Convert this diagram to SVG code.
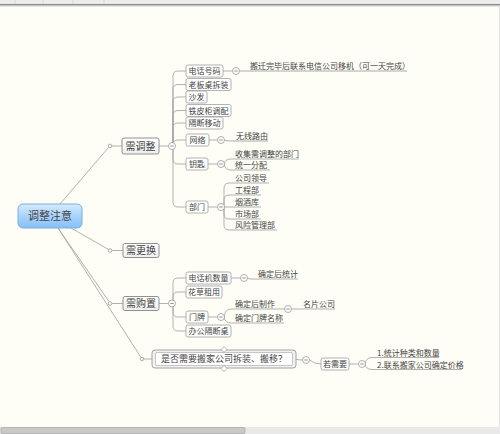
<svg xmlns="http://www.w3.org/2000/svg" width="500" height="434" viewBox="0 0 500 434">
<defs>
<linearGradient id="gc" x1="0" y1="0" x2="0" y2="1">
<stop offset="0" stop-color="#d6ebff"/>
<stop offset="0.5" stop-color="#a9d3fc"/>
<stop offset="1" stop-color="#86c0f6"/>
</linearGradient>
<linearGradient id="gm" x1="0" y1="0" x2="0" y2="1">
<stop offset="0" stop-color="#ffffff"/>
<stop offset="1" stop-color="#eeeeee"/>
</linearGradient>
<style>
text{font-family:"Noto Sans CJK SC","Noto Sans",sans-serif;fill:#444}
.c{font-size:8px;text-anchor:middle}
.u{font-size:8px}
.m{font-size:10px;text-anchor:middle}
.box{fill:#ffffff;stroke:#a0a0a0;stroke-width:0.8}
.mbox{fill:url(#gm);stroke:#909090;stroke-width:1}
.ln{fill:none;stroke:#a8a8a8;stroke-width:0.9}
.ul{fill:none;stroke:#a0a0a0;stroke-width:0.9}
.col{fill:#fff;stroke:#999;stroke-width:0.8}
.dot{fill:#fff;stroke:#999;stroke-width:0.8}
.minus{stroke:#777;stroke-width:0.8}
</style>
</defs>
<rect x="0" y="0" width="500" height="434" fill="#fefef6"/>
<!-- top bar -->
<rect x="0" y="0" width="500" height="4" fill="#ececec"/>
<g stroke="#d2d2d2" stroke-width="0.8"><line x1="15" y1="0" x2="15" y2="3.5"/><line x1="43" y1="0" x2="43" y2="3.5"/><line x1="73" y1="0" x2="73" y2="3.5"/><line x1="104" y1="0" x2="104" y2="3.5"/></g>
<line x1="0" y1="4.8" x2="500" y2="4.8" stroke="#8a8a8a" stroke-width="1.5"/>
<line x1="0" y1="6.3" x2="500" y2="6.3" stroke="#dcdcdc" stroke-width="1"/>
<!-- right edge and bottom scrollbar -->
<line x1="499.5" y1="6" x2="499.5" y2="427" stroke="#e2e2e2"/>
<rect x="0" y="427" width="500" height="7" fill="#e9e9e9"/>
<rect x="1" y="427.5" width="244" height="6" rx="1" fill="#c9c9c9" stroke="#acacac" stroke-width="0.8"/>

<g id="connectors">
<line class="ln" x1="60" y1="204" x2="108.5" y2="147.5"/>
<line class="ln" x1="71" y1="228" x2="108.5" y2="249.5"/>
<line class="ln" x1="58" y1="228" x2="109" y2="301.5"/>
<line class="ln" x1="58" y1="228" x2="141" y2="357.5"/>
<line class="ln" x1="111.8" y1="146" x2="122" y2="146"/>
<line class="ln" x1="111.8" y1="250.5" x2="123" y2="250.5"/>
<line class="ln" x1="111.8" y1="303.5" x2="123" y2="303.5"/>
<line class="ln" x1="143.8" y1="359" x2="152" y2="359"/>
<!-- 需调整 -->
<line class="ln" x1="159" y1="146" x2="168.5" y2="146"/>
<path class="ln" d="M173 146 V76 Q173 71 178 71 H186"/>
<path class="ln" d="M173 146 V89.5 Q173 84.5 178 84.5 H186"/>
<path class="ln" d="M173 146 V102 Q173 97 178 97 H186"/>
<path class="ln" d="M173 146 V115.5 Q173 110.5 178 110.5 H186"/>
<path class="ln" d="M173 146 V128 Q173 123 178 123 H186"/>
<path class="ln" d="M173 146 V145 Q173 140 178 140 H186"/>
<path class="ln" d="M173 146 V159 Q173 164 178 164 H186"/>
<path class="ln" d="M173 146 V202 Q173 207 178 207 H186"/>
<line class="ln" x1="223" y1="71" x2="232.5" y2="71"/>
<line class="ln" x1="239.5" y1="71" x2="247" y2="71"/>
<line class="ul" x1="247" y1="71" x2="407" y2="71"/>
<line class="ln" x1="209" y1="140" x2="217.5" y2="140"/>
<line class="ln" x1="224.5" y1="140.5" x2="232" y2="141"/>
<line class="ul" x1="232" y1="141" x2="268" y2="141"/>
<line class="ln" x1="208" y1="164" x2="217.5" y2="164"/>
<path class="ln" d="M224 164 Q225 159 231 159 H299"/>
<path class="ln" d="M224 164 Q225 170 231 170 H270"/>
<line class="ln" x1="208" y1="207" x2="217.5" y2="207"/>
<path class="ln" d="M224 207 V188 Q224 183 229 183 H269"/>
<path class="ln" d="M224 207 V200 Q224 195 229 195 H261"/>
<path class="ln" d="M224.5 207 H261"/>
<path class="ln" d="M224 207 V214 Q224 219 229 219 H261"/>
<path class="ln" d="M224 207 V225 Q224 230 229 230 H277"/>
<!-- 需购置 -->
<line class="ln" x1="159" y1="303.5" x2="168.5" y2="303.5"/>
<path class="ln" d="M173 303.5 V283 Q173 278 178 278 H186"/>
<path class="ln" d="M173 303.5 V297 Q173 292 178 292 H186"/>
<path class="ln" d="M173 303.5 V312 Q173 317 178 317 H186"/>
<path class="ln" d="M173 303.5 V326 Q173 331 178 331 H186"/>
<line class="ln" x1="231" y1="278" x2="240.5" y2="278"/>
<path class="ln" d="M247.5 278 Q249 279 251 279 H298"/>
<line class="ln" x1="208" y1="317" x2="217.5" y2="317"/>
<path class="ln" d="M224 317 Q225 309 231 309 H284.5"/>
<path class="ln" d="M224 317 Q225 323 231 323 H284"/>
<line class="ln" x1="291.5" y1="309" x2="335" y2="309"/>
<!-- 是否 -->
<line class="ln" x1="296" y1="359.5" x2="302.5" y2="360"/>
<path class="ln" d="M309.5 360 Q314 364 321 364"/>
<line class="ln" x1="349" y1="364" x2="358.5" y2="364"/>
<path class="ln" d="M365 364 Q366 357.5 372 357.5 H439"/>
<path class="ln" d="M365 364 Q366 369.5 372 369.5 H462"/>
</g>

<g id="n-root">
<rect x="18" y="204" width="64" height="24" rx="5" fill="url(#gc)" stroke="#78aee2" stroke-width="1"/>
<text x="50" y="220" font-size="11" text-anchor="middle">调整注意</text>
</g>

<g id="n-adjust">
<circle class="dot" cx="110" cy="146" r="1.8"/>
<rect class="mbox" x="122" y="138" width="37" height="16" rx="2"/>
<text class="m" x="140.5" y="149.5">需调整</text>
<circle class="col" cx="172" cy="146" r="3.5"/><line class="minus" x1="170.3" y1="146" x2="173.7" y2="146"/>
</g>
<g id="n-phone"><rect class="box" x="186" y="65" width="37" height="12" rx="2"/><text class="c" x="204.5" y="74">电话号码</text>
<circle class="col" cx="236" cy="71" r="3.5"/><line class="minus" x1="234.3" y1="71" x2="237.7" y2="71"/></g>
<g id="n-phone-1"><text class="u" x="250" y="68.5">搬迁完毕后联系电信公司移机（可一天完成）</text></g>
<g id="n-desk"><rect class="box" x="186" y="78.5" width="45" height="12" rx="2"/><text class="c" x="208.5" y="87.5">老板桌拆装</text></g>
<g id="n-sofa"><rect class="box" x="186" y="91" width="21" height="12" rx="2"/><text class="c" x="196.5" y="100">沙发</text></g>
<g id="n-cabinet"><rect class="box" x="186" y="104.5" width="45" height="12" rx="2"/><text class="c" x="208.5" y="113.5">铁皮柜调配</text></g>
<g id="n-partition"><rect class="box" x="186" y="117" width="37" height="12" rx="2"/><text class="c" x="204.5" y="126">隔断移动</text></g>
<g id="n-network"><rect class="box" x="186" y="134" width="23" height="12" rx="2"/><text class="c" x="197.5" y="143">网络</text>
<circle class="col" cx="221" cy="140" r="3.5"/><line class="minus" x1="219.3" y1="140" x2="222.7" y2="140"/></g>
<g id="n-router"><text class="u" x="236" y="138.5">无线路由</text></g>
<g id="n-key"><rect class="box" x="186" y="158" width="22" height="12" rx="2"/><text class="c" x="197" y="167">钥匙</text>
<circle class="col" cx="221" cy="164" r="3.5"/><line class="minus" x1="219.3" y1="164" x2="222.7" y2="164"/></g>
<g id="n-key-1"><text class="u" x="235" y="156.5">收集需调整的部门</text></g>
<g id="n-key-2"><text class="u" x="235" y="167.5">统一分配</text></g>
<g id="n-dept"><rect class="box" x="186" y="201" width="22" height="12" rx="2"/><text class="c" x="197" y="210">部门</text>
<circle class="col" cx="221" cy="207" r="3.5"/><line class="minus" x1="219.3" y1="207" x2="222.7" y2="207"/></g>
<g id="n-dept-1"><text class="u" x="235" y="180.5">公司领导</text></g>
<g id="n-dept-2"><text class="u" x="235" y="192.5">工程部</text></g>
<g id="n-dept-3"><text class="u" x="235" y="204.5">烟酒库</text></g>
<g id="n-dept-4"><text class="u" x="235" y="216.5">市场部</text></g>
<g id="n-dept-5"><text class="u" x="235" y="227.5">风险管理部</text></g>

<g id="n-replace">
<circle class="dot" cx="110" cy="250.5" r="1.8"/>
<rect class="mbox" x="123" y="243.5" width="36" height="14" rx="2"/>
<text class="m" x="141" y="254">需更换</text>
</g>

<g id="n-buy">
<circle class="dot" cx="110" cy="303.5" r="1.8"/>
<rect class="mbox" x="123" y="296.5" width="36" height="14" rx="2"/>
<text class="m" x="141" y="307">需购置</text>
<circle class="col" cx="172" cy="303.5" r="3.5"/><line class="minus" x1="170.3" y1="303.5" x2="173.7" y2="303.5"/>
</g>
<g id="n-tel"><rect class="box" x="186" y="272" width="45" height="12" rx="2"/><text class="c" x="208.5" y="281">电话机数量</text>
<circle class="col" cx="244" cy="278" r="3.5"/><line class="minus" x1="242.3" y1="278" x2="245.7" y2="278"/></g>
<g id="n-tel-1"><text class="u" x="258" y="277">确定后统计</text></g>
<g id="n-plant"><rect class="box" x="186" y="286" width="36" height="12" rx="2"/><text class="c" x="204" y="295">花草租用</text></g>
<g id="n-sign"><rect class="box" x="186" y="311" width="22" height="12" rx="2"/><text class="c" x="197" y="320">门牌</text>
<circle class="col" cx="221" cy="317" r="3.5"/><line class="minus" x1="219.3" y1="317" x2="222.7" y2="317"/></g>
<g id="n-sign-1"><text class="u" x="235" y="307">确定后制作</text>
<circle class="col" cx="288" cy="309" r="3.5"/><line class="minus" x1="286.3" y1="309" x2="289.7" y2="309"/></g>
<g id="n-card"><text class="u" x="303" y="307">名片公司</text></g>
<g id="n-sign-2"><text class="u" x="235" y="321">确定门牌名称</text></g>
<g id="n-officedesk"><rect class="box" x="186" y="325" width="45" height="12" rx="2"/><text class="c" x="208.5" y="334">办公隔断桌</text></g>

<g id="n-moving">
<circle class="dot" cx="142" cy="359" r="1.8"/>
<rect x="152" y="350" width="144" height="18" rx="3" fill="#f2f2f2" stroke="#9a9a9a" stroke-width="0.9"/>
<rect x="155.5" y="352.5" width="137" height="13" rx="1.5" fill="#ffffff" stroke="#b8b8b8" stroke-width="0.8"/>
<path d="M224 346.5 L227 349.5 L224 352.5 L221 349.5 Z" fill="#fff" stroke="#9a9a9a" stroke-width="0.8"/>
<path d="M224 365.5 L227 368.5 L224 371.5 L221 368.5 Z" fill="#fff" stroke="#9a9a9a" stroke-width="0.8"/>
<text x="224" y="362.3" font-size="9" text-anchor="middle">是否需要搬家公司拆装、搬移？</text>
<circle class="col" cx="306" cy="360" r="3.5"/><line class="minus" x1="304.3" y1="360" x2="307.7" y2="360"/>
</g>
<g id="n-ifneed"><rect class="box" x="321" y="358" width="28" height="12" rx="2"/><text class="c" x="335" y="367">若需要</text>
<circle class="col" cx="362" cy="364" r="3.5"/><line class="minus" x1="360.3" y1="364" x2="363.7" y2="364"/></g>
<g id="n-ifneed-1"><text class="u" x="377" y="355.5">1.统计种类和数量</text></g>
<g id="n-ifneed-2"><text class="u" x="377" y="367.5">2.联系搬家公司确定价格</text></g>
</svg>
